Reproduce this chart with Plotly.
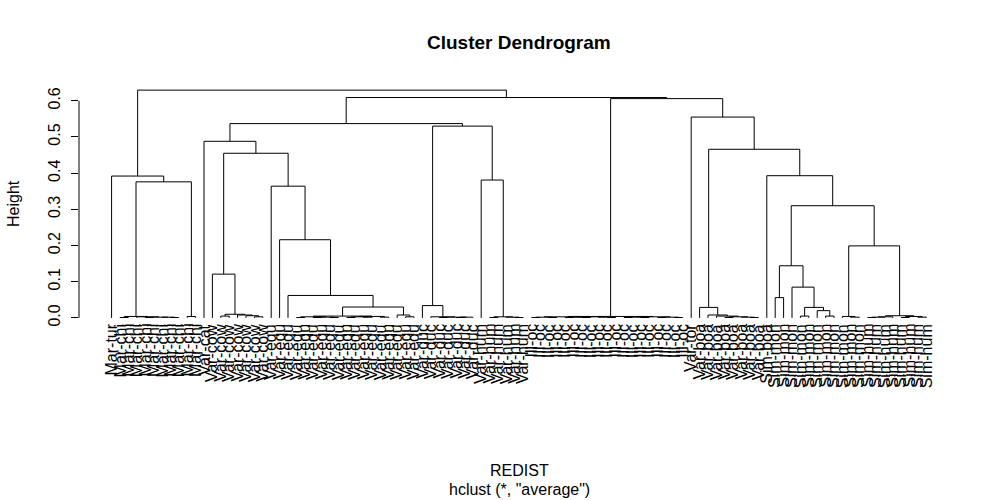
import plotly.graph_objects as go

# ---------------- data ----------------
# leaf labels in display order (leaf ids 0..97)
leaf_labels = (["Mar-tur"] + ["Mar-chi"] * 10 + ["Var-cat"] + ["Var-cow"] * 7 +
               ["Var-equ"] * 18 + ["Var-duc"] * 7 + ["Var-hum"] * 6 +
               ["Ill-oc"] * 19 + ["Var-tor"] + ["Var-boa"] * 8 + ["Sim-boa"] +
               ["Sim-mon"] * 11 + ["Sim-hum"] * 8)

# merges: child ids < 100 are leaves, ids >= 100 are earlier merges (100 + k)
merge_left = [1, 7, 6, 4, 103, 3, 100, 9, 106, 0,
              13, 17, 16, 15, 110, 12,
              22, 24, 26, 117, 116, 28, 30, 121, 32, 123, 120, 35, 34, 126, 21, 20, 19, 115, 11,
              39, 41, 136, 135, 38, 37, 45, 48, 47, 141, 44, 140, 134,
              50, 52, 54, 56, 59, 58, 148, 150, 155, 154, 61, 63, 65, 67, 158, 160, 162, 157,
              76, 75, 73, 168, 72, 71, 70,
              79, 82, 85, 84, 174, 81, 173, 88, 87, 90, 182, 183, 94, 96, 185, 184, 181, 179,
              78, 172, 69, 165, 147, 109]
merge_right = [2, 8, 101, 5, 102, 104, 105, 10, 107, 108,
               14, 18, 111, 112, 113, 114,
               23, 25, 27, 118, 119, 29, 31, 122, 33, 124, 125, 36, 127, 128, 129, 130, 131, 132, 133,
               40, 42, 43, 137, 138, 139, 46, 49, 142, 143, 144, 145, 146,
               51, 53, 55, 57, 60, 152, 149, 151, 153, 156, 62, 64, 66, 68, 159, 161, 163, 164,
               77, 166, 74, 167, 169, 170, 171,
               80, 83, 86, 175, 176, 177, 178, 89, 180, 91, 92, 93, 95, 97, 186, 187, 188, 189,
               190, 191, 192, 193, 194, 195]
merge_height = [0.001, 0.001, 0.002, 0.001, 0.002, 0.003, 0.004, 0.004, 0.376, 0.392,
                0.005, 0.003, 0.006, 0.008, 0.010, 0.121,
                0.001, 0.001, 0.001, 0.002, 0.003, 0.001, 0.002, 0.003, 0.002, 0.004, 0.005,
                0.003, 0.008, 0.030, 0.062, 0.216, 0.364, 0.455, 0.488,
                0.001, 0.001, 0.002, 0.002, 0.003, 0.034, 0.001, 0.001, 0.002, 0.003, 0.381,
                0.530, 0.537,
                0.001, 0.001, 0.001, 0.001, 0.001, 0.002, 0.002, 0.002, 0.003, 0.003,
                0.001, 0.001, 0.001, 0.001, 0.002, 0.002, 0.003, 0.004,
                0.001, 0.002, 0.001, 0.003, 0.005, 0.008, 0.029,
                0.056, 0.005, 0.005, 0.020, 0.029, 0.085, 0.144, 0.002, 0.004,
                0.001, 0.002, 0.003, 0.001, 0.002, 0.004, 0.006, 0.199, 0.310,
                0.393, 0.466, 0.555, 0.606, 0.609, 0.6295]

y_ticks = [0.0, 0.1, 0.2, 0.3, 0.4, 0.5, 0.6]
y_tick_text = ["0.0", "0.1", "0.2", "0.3", "0.4", "0.5", "0.6"]

# ---------------- layout of the tree ----------------
n_leaf = len(leaf_labels)
root = 100 + len(merge_height) - 1

order = []
def collect(node):
    if node < 100:
        order.append(node)
    else:
        k = node - 100
        collect(merge_left[k])
        collect(merge_right[k])
collect(root)
leaf_pos = {leaf: i for i, leaf in enumerate(order)}

pos = {}
hgt = {}
def place(node):
    if node < 100:
        pos[node] = leaf_pos[node]
        hgt[node] = 0.0
    else:
        k = node - 100
        place(merge_left[k]); place(merge_right[k])
        pos[node] = (pos[merge_left[k]] + pos[merge_right[k]]) / 2
        hgt[node] = merge_height[k]
place(root)

xs, ys = [], []
for k in range(len(merge_height)):
    a, b, h = merge_left[k], merge_right[k], merge_height[k]
    xs += [pos[a], pos[a], pos[b], pos[b], None]
    ys += [hgt[a], h, h, hgt[b], None]

FONT = "Liberation Sans, Arial, Helvetica, sans-serif"

fig = go.Figure()
fig.add_trace(go.Scatter(x=xs, y=ys, mode="lines",
                         line=dict(color="black", width=1),
                         hoverinfo="skip", showlegend=False))

top = max(merge_height)
pad_x = 0.04 * (n_leaf - 1)
annotations = []
for leaf in order:
    annotations.append(dict(x=leaf_pos[leaf], y=0, xref="x", yref="y",
                            text=leaf_labels[leaf], textangle=-90,
                            xanchor="center", yanchor="top", yshift=-4,
                            showarrow=False, font=dict(size=16, color="black", family=FONT)))

def py(p):
    return (327 - p) / 246.0

annotations += [
    dict(x=0.5, y=py(42), xref="paper", yref="paper", text="<b>Cluster Dendrogram</b>",
         showarrow=False, font=dict(size=19, color="black", family=FONT),
         xanchor="center", yanchor="middle"),
    dict(x=0.5, y=py(470), xref="paper", yref="paper", text="REDIST",
         showarrow=False, font=dict(size=16, color="black", family=FONT),
         xanchor="center", yanchor="middle"),
    dict(x=0.5, y=py(489), xref="paper", yref="paper", text='hclust (*, "average")',
         showarrow=False, font=dict(size=16, color="black", family=FONT),
         xanchor="center", yanchor="middle"),
    dict(x=(13 - 79) / 880.0, y=0.5, xref="paper", yref="paper", text="Height",
         textangle=-90, showarrow=False, font=dict(size=16, color="black", family=FONT),
         xanchor="center", yanchor="middle"),
]

fig.update_layout(
    width=1000, height=500,
    margin=dict(l=79, r=41, t=81, b=173),
    paper_bgcolor="white", plot_bgcolor="white",
    showlegend=False,
    annotations=annotations,
    shapes=[dict(type="line", xref="paper", yref="y", x0=0, x1=0,
                 y0=y_ticks[0], y1=y_ticks[-1], line=dict(color="black", width=1))],
    xaxis=dict(range=[-pad_x, n_leaf - 1 + pad_x], showticklabels=False, showgrid=False,
               zeroline=False, showline=False, ticks=""),
    yaxis=dict(range=[-0.04 * top, 1.04 * top], tickvals=y_ticks, ticktext=y_tick_text,
               tickangle=-90, ticks="outside", ticklen=7, tickcolor="black",
               ticklabelstandoff=5,
               showgrid=False, zeroline=False, showline=False,
               tickfont=dict(size=16, color="black", family=FONT)),
)

fig.write_html("out.html")
